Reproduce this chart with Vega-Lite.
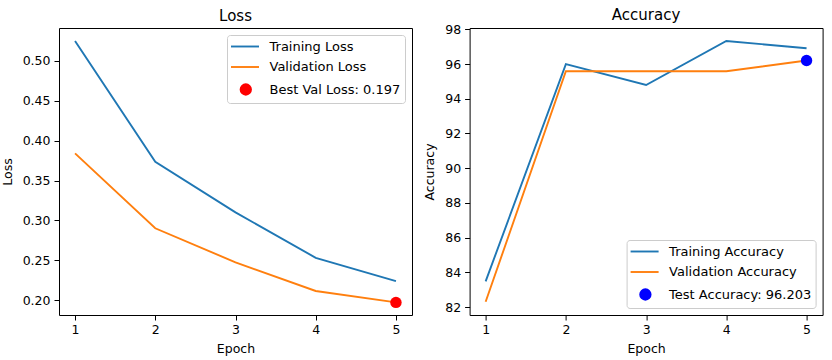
{
  "$schema": "https://vega.github.io/schema/vega-lite/v6.json",
  "background": "white",
  "padding": {"left": 0, "top": 7, "right": 0, "bottom": 0},
  "bounds": "flush",
  "spacing": 57.6,
  "config": {
    "font": "DejaVu Sans",
    "view": {"stroke": "black", "strokeWidth": 1},
    "axis": {
      "grid": false, "domain": false, "labelOverlap": false,
      "tickColor": "black", "tickSize": 5, "tickWidth": 1,
      "labelColor": "black", "labelFontSize": 12.5, "labelFont": "DejaVu Sans", "labelPadding": 4,
      "titleFont": "DejaVu Sans", "titleFontSize": 12.5, "titleFontWeight": "normal", "titleColor": "black"
    },
    "title": {"fontSize": 15, "fontWeight": "normal", "font": "DejaVu Sans", "color": "black"},
    "legend": {
      "fillColor": "white", "strokeColor": "#cccccc", "cornerRadius": 3, "padding": 4,
      "labelFont": "DejaVu Sans", "labelFontSize": 13, "labelColor": "black",
      "symbolSize": 169, "symbolStrokeWidth": 1.9, "symbolOpacity": 1,
      "rowPadding": 5.5, "labelOffset": 23.5, "offset": 7
    }
  },
  "datasets": {
    "loss": [
      {"epoch": 1, "series": "Training Loss", "value": 0.525},
      {"epoch": 2, "series": "Training Loss", "value": 0.3734},
      {"epoch": 3, "series": "Training Loss", "value": 0.310},
      {"epoch": 4, "series": "Training Loss", "value": 0.253},
      {"epoch": 5, "series": "Training Loss", "value": 0.2238},
      {"epoch": 1, "series": "Validation Loss", "value": 0.384},
      {"epoch": 2, "series": "Validation Loss", "value": 0.290},
      {"epoch": 3, "series": "Validation Loss", "value": 0.2473},
      {"epoch": 4, "series": "Validation Loss", "value": 0.2113},
      {"epoch": 5, "series": "Validation Loss", "value": 0.197}
    ],
    "lossBest": [
      {"epoch": 5, "series": "Best Val Loss: 0.197", "value": 0.197}
    ],
    "acc": [
      {"epoch": 1, "series": "Training Accuracy", "value": 83.48},
      {"epoch": 2, "series": "Training Accuracy", "value": 95.99},
      {"epoch": 3, "series": "Training Accuracy", "value": 94.79},
      {"epoch": 4, "series": "Training Accuracy", "value": 97.33},
      {"epoch": 5, "series": "Training Accuracy", "value": 96.91},
      {"epoch": 1, "series": "Validation Accuracy", "value": 82.3},
      {"epoch": 2, "series": "Validation Accuracy", "value": 95.58},
      {"epoch": 3, "series": "Validation Accuracy", "value": 95.58},
      {"epoch": 4, "series": "Validation Accuracy", "value": 95.58},
      {"epoch": 5, "series": "Validation Accuracy", "value": 96.2}
    ],
    "accTest": [
      {"epoch": 5, "series": "Test Accuracy: 96.203", "value": 96.203}
    ]
  },
  "hconcat": [
    {
      "width": 353, "height": 287,
      "title": {"text": "Loss", "offset": 4},
      "layer": [
        {
          "data": {"name": "loss"},
          "mark": {"type": "line", "strokeWidth": 1.9},
          "encoding": {
            "x": {"field": "epoch", "type": "quantitative", "scale": {"domain": [0.8, 5.2], "nice": false, "zero": false}, "axis": {"values": [1, 2, 3, 4, 5], "tickCount": 10, "format": "d", "title": "Epoch", "labelPadding": 3, "titlePadding": 7, "labelOverlap": false}},
            "y": {"field": "value", "type": "quantitative", "scale": {"domain": [0.1812, 0.5414], "nice": false, "zero": false}, "axis": {"values": [0.2, 0.25, 0.3, 0.35, 0.4, 0.45, 0.5], "tickCount": 10, "format": ".2f", "title": "Loss", "minExtent": 38, "maxExtent": 38, "titlePadding": 7, "labelOverlap": false}},
            "color": {
              "field": "series", "type": "nominal",
              "scale": {"domain": ["Training Loss", "Validation Loss", "Best Val Loss: 0.197"], "range": ["#1f77b4", "#ff7f0e", "#ff0000"]},
              "legend": {"orient": "top-right", "title": null}
            }
          }
        },
        {
          "data": {"name": "lossBest"},
          "mark": {"type": "point", "filled": true, "opacity": 0},
          "encoding": {
            "x": {"field": "epoch", "type": "quantitative"},
            "y": {"field": "value", "type": "quantitative"},
            "color": {"field": "series", "type": "nominal"},
            "shape": {
              "field": "series", "type": "nominal",
              "scale": {"domain": ["Training Loss", "Validation Loss", "Best Val Loss: 0.197"], "range": ["M-1.1538,0H3.1538", "M-1.1538,0H3.1538", "M0.323,0A0.8,0.8 0 1,1 1.923,0A0.8,0.8 0 1,1 0.323,0Z"]},
              "legend": {"orient": "top-right", "title": null}
            }
          }
        },
        {
          "data": {"name": "lossBest"},
          "mark": {"type": "point", "filled": true, "opacity": 1, "shape": "circle", "size": 130, "color": "#ff0000"},
          "encoding": {
            "x": {"field": "epoch", "type": "quantitative"},
            "y": {"field": "value", "type": "quantitative"}
          }
        }
      ]
    },
    {
      "width": 353, "height": 287,
      "title": {"text": "Accuracy", "offset": 0},
      "layer": [
        {
          "data": {"name": "acc"},
          "mark": {"type": "line", "strokeWidth": 1.9},
          "encoding": {
            "x": {"field": "epoch", "type": "quantitative", "scale": {"domain": [0.8, 5.2], "nice": false, "zero": false}, "axis": {"values": [1, 2, 3, 4, 5], "tickCount": 10, "format": "d", "title": "Epoch", "labelPadding": 3, "titlePadding": 7, "labelOverlap": false}},
            "y": {"field": "value", "type": "quantitative", "scale": {"domain": [81.54, 98.075], "nice": false, "zero": false}, "axis": {"values": [82, 84, 86, 88, 90, 92, 94, 96, 98], "tickCount": 12, "format": "d", "title": "Accuracy", "minExtent": 26, "maxExtent": 26, "titlePadding": 7, "labelOverlap": false}},
            "color": {
              "field": "series", "type": "nominal",
              "scale": {"domain": ["Training Accuracy", "Validation Accuracy", "Test Accuracy: 96.203"], "range": ["#1f77b4", "#ff7f0e", "#0000ff"]},
              "legend": {"orient": "bottom-right", "title": null}
            }
          }
        },
        {
          "data": {"name": "accTest"},
          "mark": {"type": "point", "filled": true, "opacity": 0},
          "encoding": {
            "x": {"field": "epoch", "type": "quantitative"},
            "y": {"field": "value", "type": "quantitative"},
            "color": {"field": "series", "type": "nominal"},
            "shape": {
              "field": "series", "type": "nominal",
              "scale": {"domain": ["Training Accuracy", "Validation Accuracy", "Test Accuracy: 96.203"], "range": ["M-1.1538,0H3.1538", "M-1.1538,0H3.1538", "M0.323,0A0.8,0.8 0 1,1 1.923,0A0.8,0.8 0 1,1 0.323,0Z"]},
              "legend": {"orient": "bottom-right", "title": null}
            }
          }
        },
        {
          "data": {"name": "accTest"},
          "mark": {"type": "point", "filled": true, "opacity": 1, "shape": "circle", "size": 130, "color": "#0000ff"},
          "encoding": {
            "x": {"field": "epoch", "type": "quantitative"},
            "y": {"field": "value", "type": "quantitative"}
          }
        }
      ]
    }
  ],
  "resolve": {
    "scale": {"color": "independent", "shape": "independent"},
    "legend": {"color": "independent", "shape": "independent"}
  }
}
